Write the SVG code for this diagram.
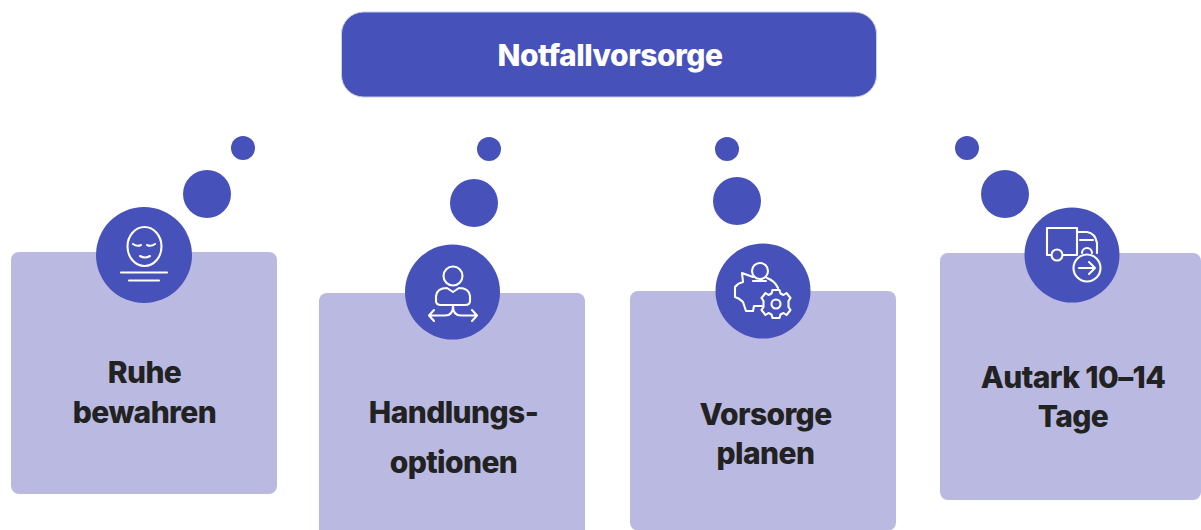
<svg xmlns="http://www.w3.org/2000/svg" width="1201" height="530" viewBox="0 0 1201 530">
<style>
.d{fill:#4651b9}
.c{fill:#bab9e1}
.t{font-family:Inter,"Liberation Sans",sans-serif;font-weight:800;font-size:30px;fill:#222;text-anchor:middle;letter-spacing:-.6px}
.i{fill:none;stroke:#fff;stroke-width:2.1;stroke-linecap:round;stroke-linejoin:round}
</style>
<rect width="1201" height="530" fill="#fff"/>
<g id="connectors">
<circle class="d" cx="243" cy="148" r="12"/><circle class="d" cx="207" cy="194" r="24"/>
<circle class="d" cx="489" cy="149" r="12"/><circle class="d" cx="474" cy="203" r="24"/>
<circle class="d" cx="727" cy="149" r="12"/><circle class="d" cx="737" cy="201" r="24"/>
<circle class="d" cx="967" cy="148" r="12"/><circle class="d" cx="1005" cy="194" r="24"/>
</g>
<g id="title">
<rect class="d" x="341.500" y="12" width="535" height="85" rx="22" stroke="#c9cbe8" stroke-width="1"/>
<text x="610" y="66" text-anchor="middle" style="font-family:Inter,'Liberation Sans',sans-serif;font-weight:800;font-size:30px;fill:#fff;letter-spacing:-.5px">Notfallvorsorge</text>
</g>
<g id="node-ruhe">
<rect class="c" x="11" y="252" width="266" height="242" rx="8"/>
<circle class="d" cx="144" cy="255" r="48"/>
<g class="i"><ellipse cx="144.500" cy="246.500" rx="17" ry="19.500"/><path d="M133 244q4 3 8 1M147 245q4 2 8-1M140 256q5 3 10 0M121 272.500h46M129 280.500h30"/></g>
<text class="t" x="144.500" y="382.500">Ruhe</text><text class="t" x="144.500" y="422.500">bewahren</text>
</g>
<g id="node-handlung">
<rect class="c" x="319" y="293" width="266" height="250" rx="8"/>
<circle class="d" cx="452.500" cy="292" r="47.500"/>
<g class="i"><circle cx="453" cy="276" r="9.500"/><path d="M447 288q-10 0-11 8v5q0 4 5 4h24q5 0 5-4v-5q-1-8-11-8l-6 4zM429 315.500h16q8 0 8-9.500q0 9.500 8 9.500h16M434 310l-5 5.500l5 5.500M472 310l5 5.500l-5 5.500"/></g>
<text class="t" x="453.500" y="422.500">Handlungs-</text><text class="t" x="453.500" y="472.500">optionen</text>
</g>
<g id="node-vorsorge">
<rect class="c" x="630" y="291" width="266" height="239.500" rx="8"/>
<circle class="d" cx="763" cy="291" r="47.500"/>
<g class="i"><circle cx="760" cy="271" r="8"/><path d="M753 281h13M742 273l11 4M767 278q8 3 11 10M742 273l1 9q-5 1-8 5v10q4 1 8 5l3 9h7l1-5h8"/><circle cx="776" cy="304" r="4.500"/><path d="M772.500 290h7l1 3.500l3 1.500l3-2l4 5l-2 3v6l2 3l-4 5l-3-2l-3 1.500l-1 3.500h-7l-1-3.500l-3-1.500l-3 2l-4-5l2-3v-6l-2-3l4-5l3 2l3-1.500z"/></g>
<text class="t" x="765.500" y="424.500">Vorsorge</text><text class="t" x="765.500" y="463.500">planen</text>
</g>
<g id="node-autark">
<rect class="c" x="940" y="253" width="261" height="247" rx="8"/>
<circle class="d" cx="1072" cy="255" r="47.500"/>
<g class="i"><path d="M1051 255h-4v-27h30v27h-14M1078 232h9q8 1 10 11v10M1080 240h13M1082 253a5 5 0 0 1 10 0"/><circle cx="1057" cy="255" r="5.500"/><circle cx="1087" cy="268" r="13.500" style="fill:#4651b9"/><path d="M1079 268h16M1089 262l6 6l-6 6"/></g>
<text class="t" x="1073" y="387.500">Autark 10–14</text><text class="t" x="1073" y="426.500">Tage</text>
</g>
</svg>
